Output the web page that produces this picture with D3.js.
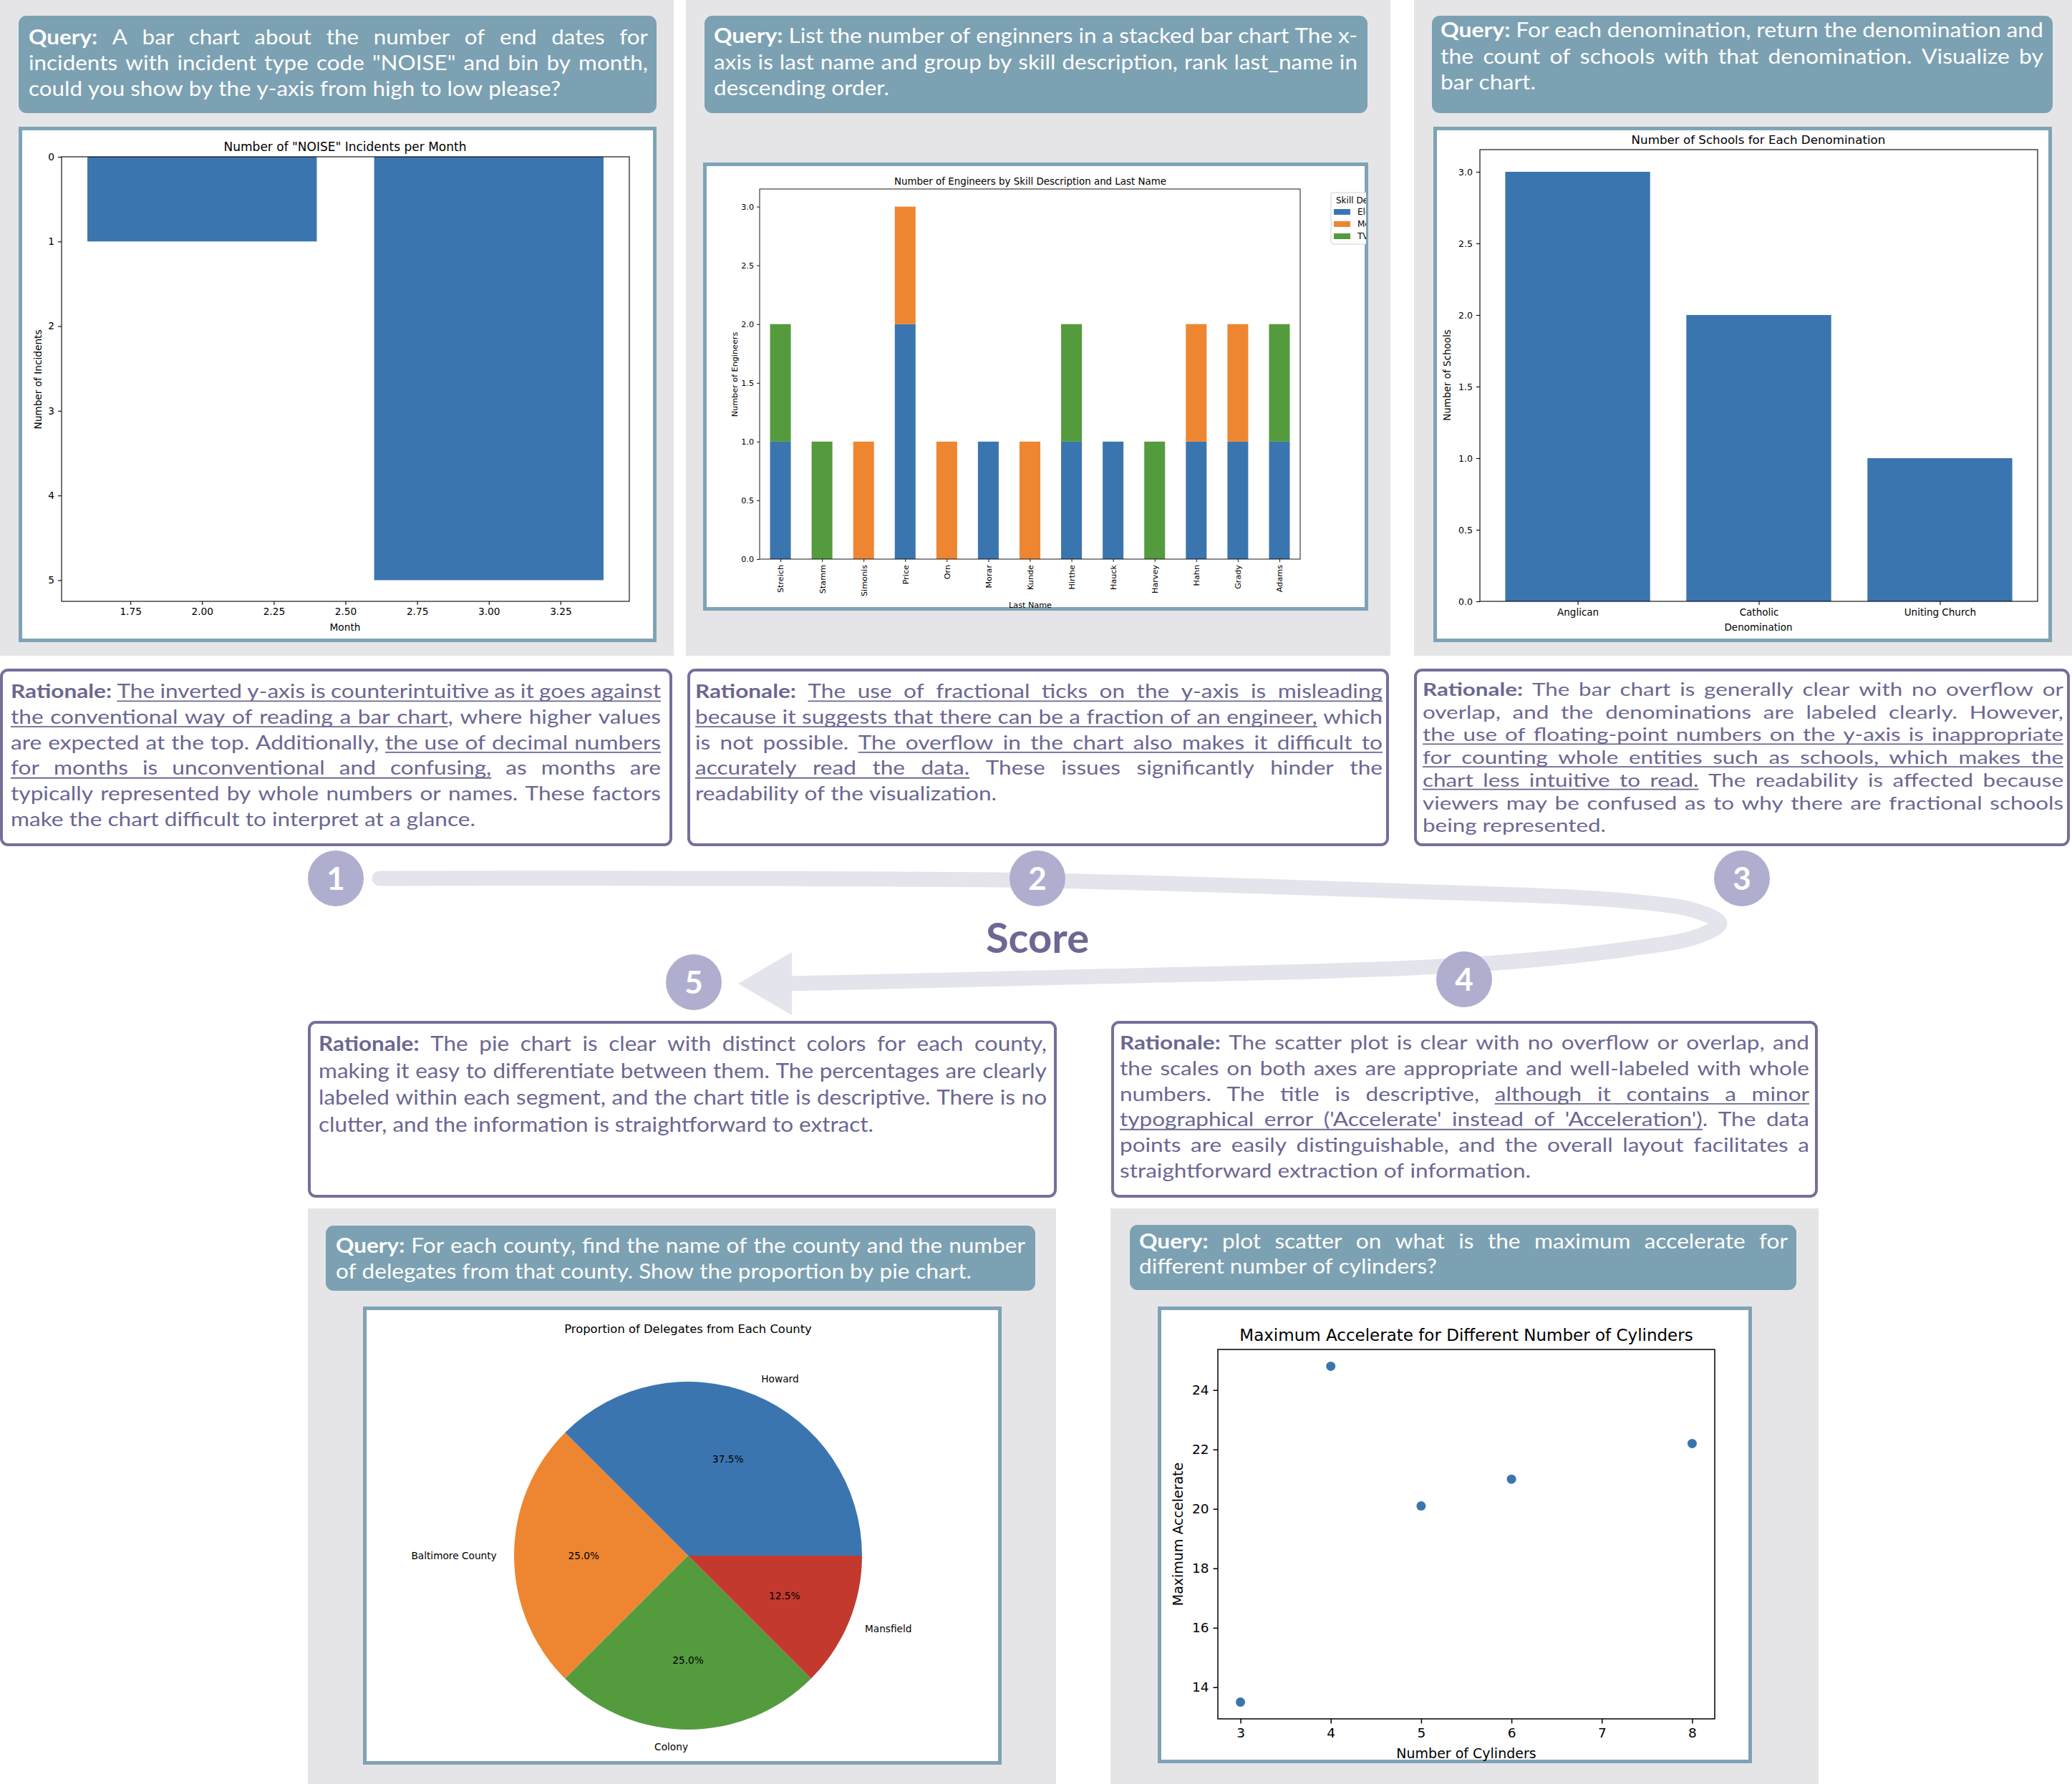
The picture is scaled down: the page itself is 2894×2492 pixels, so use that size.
<!DOCTYPE html>
<html><head><meta charset="utf-8">
<script src="https://cdn.jsdelivr.net/npm/d3@7"></script>
<style>body{margin:0;background:#fff}</style>
</head><body><div id="root"></div>
<script>
// ---------------- DATA ----------------
const noiseMonths = [2, 3];
const noiseCounts = [1, 5];
const noiseXTicks = [1.75, 2.0, 2.25, 2.5, 2.75, 3.0, 3.25];
const noiseYTicks = [0, 1, 2, 3, 4, 5];

const engineerNames = ["Streich","Stamm","Simonis","Price","Orn","Morar","Kunde","Hirthe","Hauck","Harvey","Hahn","Grady","Adams"];
const skillNames = ["Electrical","Mechanical","TV, Video"];
const electricalCounts = [1,0,0,2,0,1,0,1,1,0,1,1,1];
const mechanicalCounts = [0,0,1,1,1,0,1,0,0,0,1,1,0];
const tvCounts = [1,1,0,0,0,0,0,1,0,1,0,0,1];
const engineerYTicks = [0, 0.5, 1, 1.5, 2, 2.5, 3];

const denominations = ["Anglican","Catholic","Uniting Church"];
const schoolCounts = [3, 2, 1];
const schoolYTicks = [0, 0.5, 1, 1.5, 2, 2.5, 3];

const counties = ["Howard","Baltimore County","Colony","Mansfield"];
const delegateCounts = [3, 2, 2, 1];

const cylinders = [3, 4, 5, 6, 8];
const maxAccelerate = [13.5, 24.8, 20.1, 21.0, 22.2];
const cylTicks = [3, 4, 5, 6, 7, 8];
const accelTicks = [14, 16, 18, 20, 22, 24];

const scoreLabels = ["1","2","3","4","5"];

const query1 = ["^Query: A bar chart about the number of end dates for",
  "incidents with incident type code \"NOISE\" and bin by month,",
  "could you show by the y-axis from high to low please?"];
const query2 = ["^Query: List the number of enginners in a stacked bar chart The x-",
  "axis is last name and group by skill description, rank last_name in",
  "descending order."];
const query3 = ["^Query: For each denomination, return the denomination and",
  "the count of schools with that denomination. Visualize by",
  "bar chart."];
const query5 = ["^Query: For each county, find the name of the county and the number",
  "of delegates from that county. Show the proportion by pie chart."];
const query4 = ["^Query: plot scatter on what is the maximum accelerate for",
  "different number of cylinders?"];

const rationale1 = ["^Rationale: {The inverted y-axis is counterintuitive as it goes against}",
  "{the conventional way of reading a bar chart}, where higher values",
  "are expected at the top. Additionally, {the use of decimal numbers}",
  "{for months is unconventional and confusing,} as months are",
  "typically represented by whole numbers or names. These factors",
  "make the chart difficult to interpret at a glance."];
const rationale2 = ["^Rationale: {The use of fractional ticks on the y-axis is misleading}",
  "{because it suggests that there can be a fraction of an engineer,} which",
  "is not possible. {The overflow in the chart also makes it difficult to}",
  "{accurately read the data.} These issues significantly hinder the",
  "readability of the visualization."];
const rationale3 = ["^Rationale: The bar chart is generally clear with no overflow or",
  "overlap, and the denominations are labeled clearly. However,",
  "{the use of floating-point numbers on the y-axis is inappropriate}",
  "{for counting whole entities such as schools, which makes the}",
  "{chart less intuitive to read.} The readability is affected because",
  "viewers may be confused as to why there are fractional schools",
  "being represented."];
const rationale5 = ["^Rationale: The pie chart is clear with distinct colors for each county,",
  "making it easy to differentiate between them. The percentages are clearly",
  "labeled within each segment, and the chart title is descriptive. There is no",
  "clutter, and the information is straightforward to extract."];
const rationale4 = ["^Rationale: The scatter plot is clear with no overflow or overlap, and",
  "the scales on both axes are appropriate and well-labeled with whole",
  "numbers. The title is descriptive, {although it contains a minor}",
  "{typographical error ('Accelerate' instead of 'Acceleration')}. The data",
  "points are easily distinguishable, and the overall layout facilitates a",
  "straightforward extraction of information."];

// ---------------- STYLE ----------------
const GRAY="#e5e5e8", QFILL="#7ca1b2", FRAME="#7ea3b5", RTEXT="#6b6792", RBORDER="#74709a",
      CIRC="#b0aecf", TRACK="#e4e4ed", SCORE="#6c6893";
const BLUE="#3b75af", ORANGE="#ee8631", GREEN="#549b3e", RED="#c3392e";
const MPL="DejaVu Sans", TXT="Lato";

const svg = d3.select("#root").append("svg").attr("width",2894).attr("height",2492).style("display","block");
svg.append("rect").attr("width",2894).attr("height",2492).attr("fill","#fff");

const meas = svg.append("text").attr("x",-2000).attr("y",-2000);
function measure(t,size,bold,fam){ meas.attr("font-family",fam).attr("font-size",size).attr("font-weight",bold?700:400).text(t); return meas.node().getComputedTextLength(); }

function parseLine(str){
  let ul=false; const out=[];
  str.split(" ").filter(s=>s.length).forEach(raw=>{
    let bold=false, s=raw;
    if(s[0]==="^"){bold=true; s=s.slice(1);}
    if(s[0]==="{"){ul=true; s=s.slice(1);}
    const startU=ul; let endIdx=-1;
    const ci=s.indexOf("}");
    if(ci>=0){endIdx=ci; s=s.slice(0,ci)+s.slice(ci+1); ul=false;}
    out.push({s,bold,u:startU,endIdx});
  });
  return out;
}
function para(g, lines, o){
  const parsed=lines.map(parseLine);
  const sp=measure("a a",o.size,false,TXT)-measure("aa",o.size,false,TXT);
  parsed.forEach(ws=>ws.forEach(w=>{
    w.w=measure(w.s,o.size,w.bold,TXT);
    w.pw=w.endIdx>=0?measure(w.s.slice(0,w.endIdx),o.size,w.bold,TXT):w.w;
  }));
  const natLast=(ws=>d3.sum(ws,w=>w.w)+sp*(ws.length-1))(parsed[parsed.length-1]);
  let k=o.last/natLast;
  parsed.slice(0,-1).forEach(ws=>{
    const lim=o.w/(d3.sum(ws,w=>w.w)+0.55*sp*(ws.length-1));
    k=Math.min(k,lim);
  });
  parsed.forEach((ws,li)=>{
    const y=o.y+li*o.lh;
    const just=li<parsed.length-1;
    const tw=d3.sum(ws,w=>w.w*k);
    const gap=(just&&ws.length>1)?(o.w-tw)/(ws.length-1):sp*k;
    let x=o.x, segStart=null;
    const uline=(a,b)=>g.append("line").attr("x1",a).attr("x2",b).attr("y1",y+o.size*0.16).attr("y2",y+o.size*0.16)
        .attr("stroke",o.fill).attr("stroke-width",Math.max(1.5,o.size*0.07));
    ws.forEach((w,i)=>{
      const ww=w.w*k;
      g.append("text").attr("x",x).attr("y",y).attr("font-family",TXT).attr("font-size",o.size)
        .attr("font-weight",w.bold?700:400).attr("fill",o.fill)
        .attr("textLength",ww).attr("lengthAdjust","spacingAndGlyphs").text(w.s);
      if(w.u){
        if(segStart===null) segStart=x;
        if(w.endIdx>=0){uline(segStart,x+w.pw*k); segStart=null;}
        else if(i===ws.length-1||!ws[i+1].u){uline(segStart,x+ww); segStart=null;}
      }
      x+=ww+gap;
    });
  });
}

// ---------------- BACKGROUND PANELS ----------------
const panels=[[0,0,941,916],[958,0,984,916],[1975,0,919,916],[430,1688,1045,804],[1551,1688,989,804]];
svg.selectAll("rect.panel").data(panels).join("rect").attr("class","panel")
  .attr("x",d=>d[0]).attr("y",d=>d[1]).attr("width",d=>d[2]).attr("height",d=>d[3]).attr("fill",GRAY);

const qboxes=[[26,22,891,136],[984,22,926,136],[2000,22,867,136],[455,1712,991,91],[1578,1711,931,91]];
svg.selectAll("rect.qbox").data(qboxes).join("rect").attr("class","qbox")
  .attr("x",d=>d[0]).attr("y",d=>d[1]).attr("width",d=>d[2]).attr("height",d=>d[3]).attr("rx",11).attr("fill",QFILL);

const frames=[[26,177,891,720],[982,227,929,626],[2002,177,864,720],[507,1825,892,640],[1617,1825,830,638]];
svg.selectAll("rect.frame").data(frames).join("rect").attr("class","frame")
  .attr("x",d=>d[0]+2.5).attr("y",d=>d[1]+2.5).attr("width",d=>d[2]-5).attr("height",d=>d[3]-5)
  .attr("fill","#fff").attr("stroke",FRAME).attr("stroke-width",5);

const rboxes=[[2,936,935,244],[962,936,976,244],[1977,936,912,244],[432,1428,1042,243],[1554,1428,983,243]];
svg.selectAll("rect.rbox").data(rboxes).join("rect").attr("class","rbox")
  .attr("x",d=>d[0]).attr("y",d=>d[1]).attr("width",d=>d[2]).attr("height",d=>d[3]).attr("rx",9)
  .attr("fill","#fff").attr("stroke",RBORDER).attr("stroke-width",4);

// ---------------- TEXT BLOCKS ----------------
const tg=svg.append("g");
para(tg,query1,{x:40,w:865,y:62,lh:36,size:28,fill:"#fff",last:743});
para(tg,query2,{x:997,w:899,y:60,lh:36.5,size:28,fill:"#fff",last:245});
para(tg,query3,{x:2012,w:842,y:52,lh:36.5,size:28,fill:"#fff",last:133});
para(tg,query5,{x:469,w:963,y:1750,lh:36,size:28,fill:"#fff",last:888});
para(tg,query4,{x:1591,w:906,y:1744,lh:35,size:28,fill:"#fff",last:416});

para(tg,rationale1,{x:15,w:908,y:975,lh:35.8,size:27,fill:RTEXT,last:649});
para(tg,rationale2,{x:971,w:960,y:975,lh:35.8,size:27,fill:RTEXT,last:421});
para(tg,rationale3,{x:1987,w:895,y:972,lh:31.7,size:24.5,fill:RTEXT,last:256});
para(tg,rationale5,{x:445,w:1017,y:1468,lh:37.7,size:28,fill:RTEXT,last:775});
para(tg,rationale4,{x:1564,w:963,y:1466,lh:35.8,size:27,fill:RTEXT,last:574});

// ---------------- SCORE TRACK ----------------
const trackPts=[[530,1227],[1450,1230],[1910,1243],[2279,1259],[2371,1273],[2402,1290],[2371,1308],[2279,1325],[2047,1348],[1450,1366],[1100,1374]];
svg.append("path").attr("d",d3.line().curve(d3.curveCatmullRom.alpha(0.5))(trackPts))
  .attr("fill","none").attr("stroke",TRACK).attr("stroke-width",21).attr("stroke-linecap","round");
svg.append("path").attr("d","M1031,1374 L1106,1330 L1106,1418 Z").attr("fill",TRACK);
svg.append("text").attr("x",1449).attr("y",1331).attr("text-anchor","middle").attr("font-family",TXT)
  .attr("font-weight",700).attr("font-size",58).attr("fill",SCORE).text("Score");
const circPos=[[469,1227],[1449,1227],[2433,1227],[2045,1368],[969,1372]];
const cg=svg.append("g").selectAll("g").data(scoreLabels).join("g")
  .attr("transform",(d,i)=>`translate(${circPos[i][0]},${circPos[i][1]})`);
cg.append("circle").attr("r",39).attr("fill",CIRC);
cg.append("text").attr("text-anchor","middle").attr("dy","0.36em").attr("font-family",TXT).attr("font-weight",700)
  .attr("font-size",44).attr("fill","#fff").text(d=>d);

// ---------------- HELPERS ----------------
function axisG(g,axis,tx,ty,size,lw){
  const a=g.append("g").attr("transform",`translate(${tx},${ty})`).call(axis);
  a.attr("font-family",MPL).attr("font-size",size);
  a.select(".domain").remove();
  a.selectAll(".tick line").attr("stroke","#000").attr("stroke-width",lw);
  a.selectAll(".tick text").attr("fill","#000");
  return a;
}
function spine(g,x0,y0,x1,y1,lw){
  g.append("rect").attr("x",x0).attr("y",y0).attr("width",x1-x0).attr("height",y1-y0)
   .attr("fill","none").attr("stroke","#000").attr("stroke-width",lw);
}
function label(g,x,y,t,size,rot){
  const e=g.append("text").attr("font-family",MPL).attr("font-size",size).attr("fill","#000")
   .attr("text-anchor","middle").attr("dy","0.35em").text(t);
  if(rot) e.attr("transform",`translate(${x},${y}) rotate(-90)`); else e.attr("x",x).attr("y",y);
  return e;
}

// ---------------- CHART 1 ----------------
{
  const g=svg.append("g");
  const x=d3.scaleLinear().domain([1.51,3.49]).range([86,879]);
  const y=d3.scaleLinear().domain([0,5.25]).range([219,840]);
  g.selectAll("rect").data(noiseMonths.map((m,i)=>({m,c:noiseCounts[i]}))).join("rect")
    .attr("x",d=>x(d.m-0.4)).attr("width",d=>x(d.m+0.4)-x(d.m-0.4))
    .attr("y",y(0)).attr("height",d=>y(d.c)-y(0)).attr("fill",BLUE);
  axisG(g,d3.axisLeft(y).tickValues(noiseYTicks).tickFormat(d3.format("d")).tickSize(5).tickPadding(5),86,0,13.7,1.1);
  axisG(g,d3.axisBottom(x).tickValues(noiseXTicks).tickFormat(d3.format(".2f")).tickSize(5).tickPadding(4),0,840,13.7,1.1);
  spine(g,86,219,879,840,1.1);
  label(g,482,205,"Number of \"NOISE\" Incidents per Month",17);
  label(g,482,876,"Month",13.7);
  label(g,53,530,"Number of Incidents",13.7,true);
}

// ---------------- CHART 2 ----------------
{
  const g=svg.append("g");
  const x=d3.scaleLinear().domain([-0.5,12.5]).range([1061,1816]);
  const y=d3.scaleLinear().domain([0,3.15]).range([781,264]);
  const rows=engineerNames.map((n,i)=>({name:n,i,"Electrical":electricalCounts[i],"Mechanical":mechanicalCounts[i],"TV, Video":tvCounts[i]}));
  const stack=d3.stack().keys(skillNames)(rows);
  const colors=[BLUE,ORANGE,GREEN];
  stack.forEach((s,si)=>{
    g.append("g").selectAll("rect").data(s.filter(d=>d[1]>d[0])).join("rect")
      .attr("x",d=>x(d.data.i-0.25)).attr("width",d=>x(d.data.i+0.25)-x(d.data.i-0.25))
      .attr("y",d=>y(d[1])).attr("height",d=>y(d[0])-y(d[1])).attr("fill",colors[si]);
  });
  axisG(g,d3.axisLeft(y).tickValues(engineerYTicks).tickFormat(d3.format(".1f")).tickSize(4).tickPadding(4),1061,0,11.2,0.9);
  const ax=axisG(g,d3.axisBottom(x).tickValues(d3.range(engineerNames.length)).tickFormat(i=>engineerNames[i]).tickSize(4).tickPadding(4),0,781,11.2,0.9);
  ax.selectAll(".tick text").attr("transform","rotate(-90)").attr("text-anchor","end").attr("x",-8).attr("y",0).attr("dy","0.35em");
  spine(g,1061,264,1816,781,0.9);
  label(g,1439,253,"Number of Engineers by Skill Description and Last Name",13.4);
  label(g,1439,845,"Last Name",11.2);
  label(g,1026,523,"Number of Engineers",11.2,true);
  // legend (clipped by picture edge)
  svg.append("clipPath").attr("id","clip2").append("rect").attr("x",985).attr("y",230).attr("width",923).attr("height",620);
  const lg=g.append("g").attr("clip-path","url(#clip2)");
  lg.append("rect").attr("x",1859).attr("y",269).attr("width",130).attr("height",72).attr("rx",3)
    .attr("fill","#fff").attr("stroke","#d0d0d0").attr("stroke-width",1);
  lg.append("text").attr("x",1866).attr("y",280).attr("dy","0.35em").attr("font-family",MPL).attr("font-size",12).text("Skill Description");
  const le=lg.selectAll("g.le").data(skillNames).join("g").attr("class","le")
    .attr("transform",(d,i)=>`translate(0,${296+i*17})`);
  le.append("rect").attr("x",1863).attr("y",-4).attr("width",23).attr("height",8).attr("fill",(d,i)=>colors[i]);
  le.append("text").attr("x",1896).attr("y",0).attr("dy","0.35em").attr("font-family",MPL).attr("font-size",12).text(d=>d);
}

// ---------------- CHART 3 ----------------
{
  const g=svg.append("g");
  const x=d3.scaleLinear().domain([-0.54,2.54]).range([2067,2846]);
  const y=d3.scaleLinear().domain([0,3.155]).range([840,209]);
  g.selectAll("rect").data(schoolCounts).join("rect")
    .attr("x",(d,i)=>x(i-0.4)).attr("width",(d,i)=>x(i+0.4)-x(i-0.4))
    .attr("y",d=>y(d)).attr("height",d=>y(0)-y(d)).attr("fill",BLUE);
  axisG(g,d3.axisLeft(y).tickValues(schoolYTicks).tickFormat(d3.format(".1f")).tickSize(5).tickPadding(5),2067,0,12.5,1.1);
  axisG(g,d3.axisBottom(x).tickValues(d3.range(denominations.length)).tickFormat(i=>denominations[i]).tickSize(5).tickPadding(5),0,840,13.5,1.1);
  spine(g,2067,209,2846,840,1.1);
  label(g,2456,195,"Number of Schools for Each Denomination",16.7);
  label(g,2456,876,"Denomination",13.5);
  label(g,2021,524,"Number of Schools",13.5,true);
}

// ---------------- CHART 5 (PIE) ----------------
{
  const g=svg.append("g");
  const cx=961, cy=2173, r=243;
  label(g,961,1856,"Proportion of Delegates from Each County",16.4);
  const pie=d3.pie().sort(null).startAngle(Math.PI/2).endAngle(Math.PI/2-2*Math.PI);
  const arcs=pie(delegateCounts);
  const arc=d3.arc().innerRadius(0).outerRadius(r);
  const colors=[BLUE,ORANGE,GREEN,RED];
  const total=d3.sum(delegateCounts);
  const pg=g.append("g").attr("transform",`translate(${cx},${cy})`);
  pg.selectAll("path").data(arcs).join("path").attr("d",arc).attr("fill",(d,i)=>colors[i]);
  arcs.forEach((a,i)=>{
    const mid=(a.startAngle+a.endAngle)/2;
    const sx=Math.sin(mid), cyv=-Math.cos(mid);
    pg.append("text").attr("x",1.1*r*sx).attr("y",1.1*r*cyv).attr("dy","0.35em")
      .attr("text-anchor",sx<0?"end":"start").attr("font-family",MPL).attr("font-size",13.7).text(counties[i]);
    pg.append("text").attr("x",0.6*r*sx).attr("y",0.6*r*cyv).attr("dy","0.35em")
      .attr("text-anchor","middle").attr("font-family",MPL).attr("font-size",13.7)
      .text(d3.format(".1f")(100*delegateCounts[i]/total)+"%");
  });
}

// ---------------- CHART 4 (SCATTER) ----------------
{
  const g=svg.append("g");
  const x=d3.scaleLinear().domain([2.75,8.25]).range([1701,2395]);
  const y=d3.scaleLinear().domain([12.935,25.365]).range([2401,1885]);
  axisG(g,d3.axisLeft(y).tickValues(accelTicks).tickFormat(d3.format("d")).tickSize(6.5).tickPadding(6),1701,0,18.5,1.5);
  axisG(g,d3.axisBottom(x).tickValues(cylTicks).tickFormat(d3.format("d")).tickSize(6.5).tickPadding(6),0,2401,18.5,1.5);
  g.selectAll("circle").data(cylinders.map((c,i)=>({c,v:maxAccelerate[i]}))).join("circle")
    .attr("cx",d=>x(d.c)).attr("cy",d=>y(d.v)).attr("r",6.5).attr("fill",BLUE);
  spine(g,1701,1885,2395,2401,1.5);
  label(g,2048,1865,"Maximum Accelerate for Different Number of Cylinders",23);
  label(g,2048,2449,"Number of Cylinders",19);
  label(g,1645,2143,"Maximum Accelerate",19,true);
}
meas.remove();
</script>
</body></html>
